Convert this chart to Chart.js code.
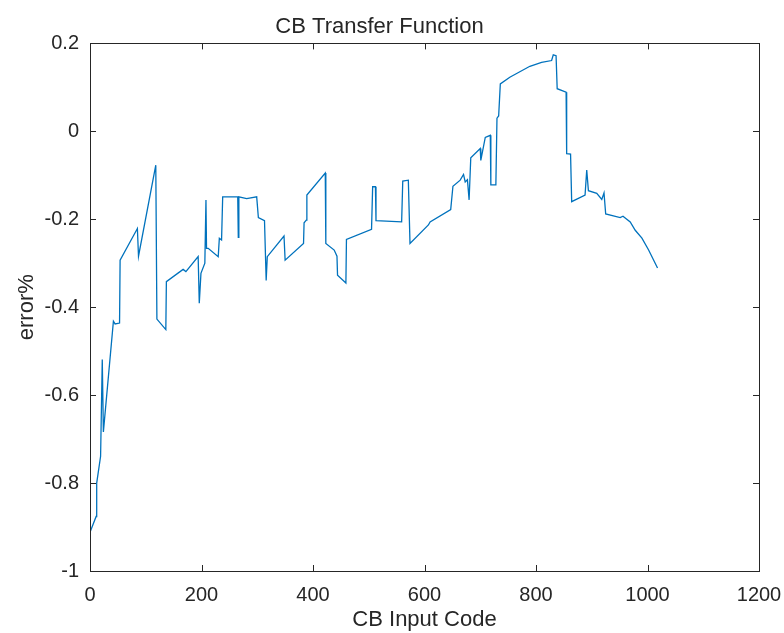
<!DOCTYPE html>
<html>
<head>
<meta charset="utf-8">
<script src="https://cdn.jsdelivr.net/npm/chart.js@4/dist/chart.umd.min.js"></script>
<style>
  body { margin: 0; background: #fff; }
  #wrap { width: 784px; height: 633px; }
</style>
</head>
<body>
<div id="wrap"><canvas id="myChart"></canvas></div>
<script>
// CB input code (x) and error% (y)
const codes = [0, 11, 12, 19, 22, 24, 42, 45, 53, 54, 85, 87, 118, 120, 136, 137, 167, 172, 194, 196,
  199, 206, 208, 209, 212, 230, 232, 236, 238, 265, 266, 267, 281, 299, 302, 313, 316, 318, 348, 350,
  383, 384, 388, 389, 422, 423, 438, 443, 444, 459, 460, 505, 507, 512, 513, 559, 561, 571, 574, 607,
  610, 647, 651, 664, 670, 673, 677, 680, 683, 700, 701, 709, 718, 719, 728, 730, 733, 736, 753, 789,
  810, 828, 831, 836, 838, 854, 855, 862, 864, 888, 891, 894, 909, 918, 922, 925, 951, 956, 969, 978,
  990, 1002, 1018];
const errors = [-0.912, -0.876, -0.800, -0.739, -0.519, -0.684, -0.432, -0.438, -0.436, -0.293, -0.221, -0.284, -0.077, -0.427, -0.451, -0.342, -0.314, -0.319, -0.285, -0.391,
  -0.323, -0.300, -0.156, -0.266, -0.266, -0.285, -0.243, -0.247, -0.149, -0.149, -0.241, -0.149, -0.153, -0.149, -0.196, -0.203, -0.339, -0.285, -0.238, -0.293,
  -0.255, -0.208, -0.202, -0.145, -0.095, -0.255, -0.270, -0.284, -0.327, -0.345, -0.246, -0.223, -0.126, -0.126, -0.203, -0.206, -0.113, -0.111, -0.255, -0.213,
  -0.206, -0.178, -0.125, -0.111, -0.098, -0.115, -0.110, -0.156, -0.060, -0.039, -0.066, -0.014, -0.009, -0.122, -0.122, 0.030, 0.035, 0.108, 0.123, 0.148,
  0.157, 0.161, 0.174, 0.172, 0.097, 0.089, -0.051, -0.052, -0.160, -0.145, -0.088, -0.135, -0.141, -0.155, -0.140, -0.188, -0.196, -0.193, -0.206, -0.225,
  -0.243, -0.270, -0.311];
const xTicks = [0, 200, 400, 600, 800, 1000, 1200];
const yTicks = [-1, -0.8, -0.6, -0.4, -0.2, 0, 0.2];

const axisColor = "#262626";
const font = "Liberation Sans, Arial, sans-serif";

let points = codes.map(function(c, i) {
    return { x: c, y: errors[i] };
});

// matlab style box with ticks pointing in
const boxPlugin = {
    id: "box",
    afterDraw: function(chart) {
        const ctx = chart.ctx;
        const a = chart.chartArea;
        const xs = chart.scales.x;
        const ys = chart.scales.y;
        const len = 6;
        ctx.save();
        ctx.strokeStyle = axisColor;
        ctx.lineWidth = 1;
        ctx.beginPath();
        xTicks.forEach(function(v) {
            const px = Math.round(xs.getPixelForValue(v)) + 0.5;
            ctx.moveTo(px, a.bottom); ctx.lineTo(px, a.bottom - len);
            ctx.moveTo(px, a.top); ctx.lineTo(px, a.top + len);
        });
        yTicks.forEach(function(v) {
            const py = Math.round(ys.getPixelForValue(v)) + 0.5;
            ctx.moveTo(a.left, py); ctx.lineTo(a.left + len, py);
            ctx.moveTo(a.right, py); ctx.lineTo(a.right - len, py);
        });
        ctx.stroke();
        ctx.strokeRect(Math.round(a.left) + 0.5, Math.round(a.top) + 0.5,
            Math.round(a.right - a.left), Math.round(a.bottom - a.top));
        ctx.restore();
    }
};

const ctx = document.getElementById("myChart");

let config = {
    type: "scatter",
    data: {
        datasets: [{
            data: points,
            showLine: true,
            borderColor: "#0072BD",
            borderWidth: 1.3,
            pointRadius: 0,
            tension: 0
        }]
    },
    options: {
        responsive: true,
        maintainAspectRatio: false,
        animation: false,
        layout: { padding: { left: 0, right: 25, top: 0, bottom: 0 } },
        plugins: {
            legend: { display: false },
            tooltip: { enabled: false },
            title: {
                display: true,
                text: "CB Transfer Function",
                color: axisColor,
                font: { family: font, size: 22, weight: "normal" },
                padding: { top: 14, bottom: 3 }
            }
        },
        scales: {
            x: {
                type: "linear",
                min: 0,
                max: 1200,
                afterBuildTicks: function(scale) {
                    scale.ticks = xTicks.map(function(v) { return { value: v }; });
                },
                afterFit: function(scale) {
                    scale.height = 62;
                    scale.paddingLeft = 0;
                    scale.paddingRight = 0;
                },
                grid: { display: false, drawTicks: false },
                border: { display: false },
                ticks: {
                    color: axisColor,
                    font: { family: font, size: 20 },
                    padding: 12,
                    maxRotation: 0,
                    callback: function(v) { return String(v); }
                },
                title: {
                    display: true,
                    text: "CB Input Code",
                    color: axisColor,
                    font: { family: font, size: 22 },
                    padding: { top: 0, bottom: 0 }
                }
            },
            y: {
                type: "linear",
                min: -1,
                max: 0.2,
                afterBuildTicks: function(scale) {
                    scale.ticks = yTicks.map(function(v) { return { value: v }; });
                },
                afterFit: function(scale) { scale.width = 90; },
                grid: { display: false, drawTicks: false },
                border: { display: false },
                ticks: {
                    color: axisColor,
                    font: { family: font, size: 20 },
                    padding: 11,
                    callback: function(v) { return String(Math.round(v * 10) / 10); }
                },
                title: {
                    display: true,
                    text: "error%",
                    color: axisColor,
                    font: { family: font, size: 22 },
                    padding: { top: 14, bottom: 0 }
                }
            }
        }
    },
    plugins: [boxPlugin]
};

let myChart = new Chart(ctx, config);
</script>
</body>
</html>
